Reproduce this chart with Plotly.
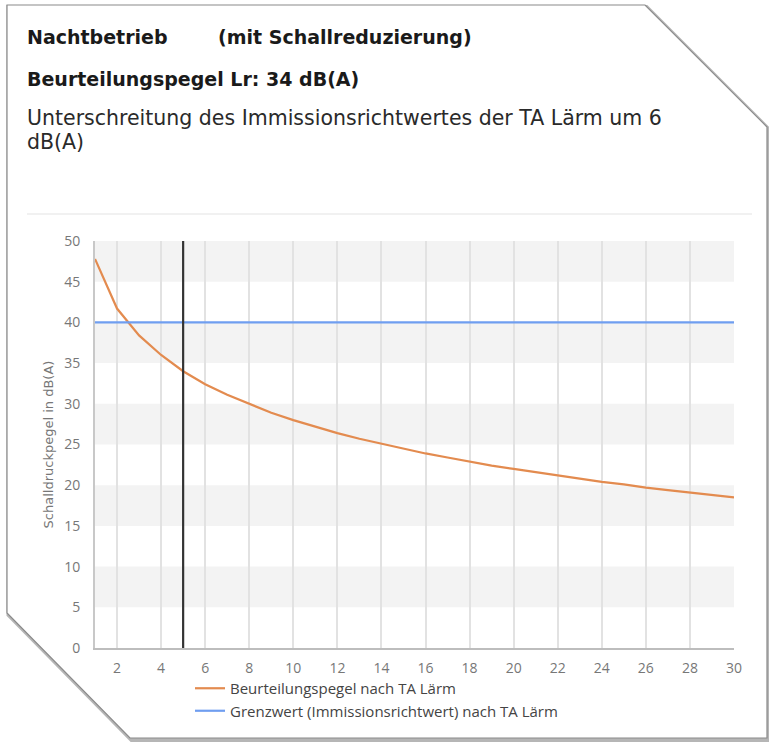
import plotly.graph_objects as go

# ---------------- data ----------------
distance = list(range(1, 31))
beurteilungspegel = [47.8, 41.7, 38.4, 36.0, 34.0, 32.4, 31.1, 30.0, 28.9, 28.0,
                     27.2, 26.4, 25.7, 25.1, 24.5, 23.9, 23.4, 22.9, 22.4, 22.0,
                     21.6, 21.2, 20.8, 20.4, 20.1, 19.7, 19.4, 19.1, 18.8, 18.5]
grenz_x = [1, 30]
grenz_y = [40, 40]
marker_x = [5, 5]
marker_y = [0, 50]
y_ticks = [0, 5, 10, 15, 20, 25, 30, 35, 40, 45, 50]
x_ticks = [2, 4, 6, 8, 10, 12, 14, 16, 18, 20, 22, 24, 26, 28, 30]

name_pegel = "Beurteilungspegel nach TA Lärm"
name_grenz = "Grenzwert (Immissionsrichtwert) nach TA Lärm"

# ---------------- layout geometry ----------------
W, H = 769, 743
L, R, T, B = 95, 734, 241, 648  # plot area in px


def px(xp):
    return (xp - L) / (R - L)


def py(yp):
    return (B - yp) / (B - T)


fig = go.Figure()

fig.add_trace(go.Scatter(x=distance, y=beurteilungspegel, mode="lines",
                         name=name_pegel,
                         line=dict(color="#e38b4f", width=2.2)))
fig.add_trace(go.Scatter(x=grenz_x, y=grenz_y, mode="lines",
                         name=name_grenz,
                         line=dict(color="#6f9ef0", width=2.2)))
fig.add_trace(go.Scatter(x=marker_x, y=marker_y, mode="lines",
                         showlegend=False, hoverinfo="skip",
                         line=dict(color="#333333", width=2.2)))

shapes = []

# card shadow + card
card = [(7, 5), (645, 5), (767, 127), (767, 738), (130, 738), (7, 613)]


def path_of(pts, dx=0, dy=0):
    s = "M " + " L ".join(f"{px(x + dx):.5f},{py(y + dy):.5f}" for x, y in pts) + " Z"
    return s


shapes.append(dict(type="path", xref="paper", yref="paper", layer="below",
                   path=path_of(card, 1.5, 2.0), fillcolor="rgba(0,0,0,0)",
                   line=dict(color="rgba(110,110,110,0.5)", width=4)))
shapes.append(dict(type="path", xref="paper", yref="paper", layer="below",
                   path=path_of(card), fillcolor="white",
                   line=dict(color="#8a8a8a", width=1.2)))

# separator line
shapes.append(dict(type="line", xref="paper", yref="paper", layer="below",
                   x0=px(27), x1=px(752), y0=py(214), y1=py(214),
                   line=dict(color="#ececec", width=1.5)))

# alternating bands
for i in range(len(y_ticks) - 1):
    if i % 2 == 1:
        shapes.append(dict(type="rect", xref="x domain", yref="y", layer="below",
                           x0=0, x1=1, y0=y_ticks[i], y1=y_ticks[i + 1],
                           fillcolor="#f3f3f3", line=dict(width=0)))

TF = "DejaVu Sans, Liberation Sans, Arial"
annotations = [
    dict(text="<b>Nachtbetrieb</b>", x=px(25), y=py(37), xref="paper", yref="paper",
         xanchor="left", yanchor="middle", showarrow=False,
         font=dict(family=TF, size=19, color="#1a1a1a")),
    dict(text="<b>(mit Schallreduzierung)</b>", x=px(216), y=py(37), xref="paper", yref="paper",
         xanchor="left", yanchor="middle", showarrow=False,
         font=dict(family=TF, size=19, color="#1a1a1a")),
    dict(text="<b>Beurteilungspegel Lr: 34 dB(A)</b>", x=px(25), y=py(79), xref="paper", yref="paper",
         xanchor="left", yanchor="middle", showarrow=False,
         font=dict(family=TF, size=19, color="#1a1a1a")),
    dict(text="Unterschreitung des Immissionsrichtwertes der TA Lärm um 6", x=px(25), y=py(118),
         xref="paper", yref="paper", xanchor="left", yanchor="middle", showarrow=False,
         font=dict(family=TF, size=20.5, color="#2a2a2a")),
    dict(text="dB(A)", x=px(25), y=py(142), xref="paper", yref="paper",
         xanchor="left", yanchor="middle", showarrow=False,
         font=dict(family=TF, size=20.5, color="#2a2a2a")),
]

fig.update_layout(
    width=W, height=H,
    margin=dict(l=L, r=W - R, t=T, b=H - B, autoexpand=False),
    paper_bgcolor="white",
    plot_bgcolor="rgba(0,0,0,0)",
    shapes=shapes,
    annotations=annotations,
    font=dict(family="Open Sans, Noto Sans, sans-serif", size=14, color="#777777"),
    showlegend=True,
    legend=dict(orientation="v", x=px(190), y=py(672), xanchor="left", yanchor="top",
                xref="paper", yref="paper",
                font=dict(size=15, color="#444444"), bgcolor="rgba(0,0,0,0)",
                tracegroupgap=0, itemwidth=30),
    xaxis=dict(range=[1, 30], tickvals=x_ticks, showgrid=True, gridcolor="#e2e2e2",
               gridwidth=1.5, zeroline=False, showline=True, linecolor="#bdbdbd",
               linewidth=2, ticks="", tickfont=dict(size=14, color="#777777"),
               ticklabelstandoff=6, fixedrange=True),
    yaxis=dict(range=[0, 50], tickvals=y_ticks, showgrid=False, zeroline=False,
               showline=True, linecolor="#c8c8c8", linewidth=2, ticks="",
               tickfont=dict(size=14, color="#777777"), ticklabelstandoff=10,
               title=dict(text="Schalldruckpegel in dB(A)", standoff=8,
                          font=dict(family="DejaVu Sans, Open Sans", size=13, color="#777777")),
               fixedrange=True),
)

fig.write_html("out.html", config={"displayModeBar": False},
               post_script="document.body.style.margin='0px';")
